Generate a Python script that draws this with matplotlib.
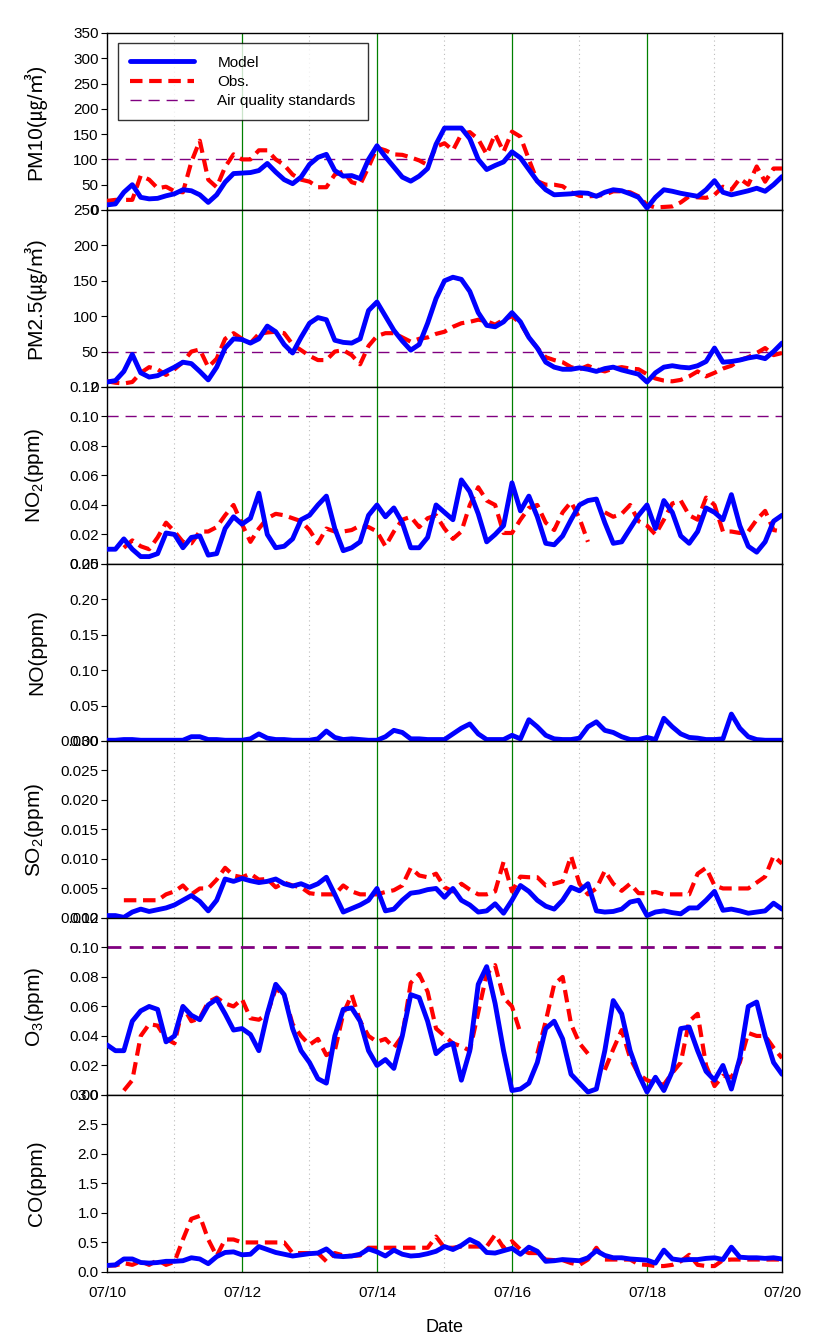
import numpy as np
import matplotlib
matplotlib.use("Agg")
import matplotlib.pyplot as plt

plt.rcParams['font.family'] = ['Liberation Sans', 'Noto Sans CJK KR', 'DejaVu Sans']
plt.rcParams['mathtext.default'] = 'regular'

nan = np.nan

# 3-hourly values, 07/10 00:00 .. 07/20 00:00
hours = np.arange(0, 241, 3)
day_labels = ['07/10', '07/12', '07/14', '07/16', '07/18', '07/20']

pm10_model = [10, 12, 35, 50, 25, 22, 23, 28, 32, 40, 38, 30, 15, 30, 55, 72, 73, 74, 78, 92, 75,
              60, 52, 65, 90, 104, 110, 78, 67, 68, 62, 100, 127, 105, 85, 65, 57, 67, 82, 130, 162,
              162, 162, 141, 100, 80, 88, 95, 115, 103, 80, 57, 40, 30, 31, 32, 34, 33, 27, 35, 40,
              38, 32, 25, 4, 25, 40, 37, 33, 30, 27, 40, 58, 35, 30, 34, 38, 43, 37, 50, 66]
pm10_obs = [18, 20, 20, 20, 68, 60, 43, 46, 37, 35, 95, 137, 60, 45, 85, 110, 100, 100, 118, 118, 100,
            89, 70, 60, 56, 45, 45, 70, 76, 55, 50, 85, 123, 118, 110, 109, 104, 98, 89, 125, 132,
            118, 150, 154, 140, 110, 150, 115, 155, 145, 100, 57, 50, 50, 47, 35, 28, 27, 28, 30, 37,
            37, 35, 27, 10, 5, 6, 7, 15, 27, 25, 24, 30, 46, 40, 62, 50, 86, 56, 82, 82]

pm25_model = [7, 9, 22, 46, 20, 14, 16, 22, 28, 35, 33, 22, 10, 28, 55, 68, 67, 62, 68, 86, 78,
              60, 48, 70, 90, 98, 95, 66, 63, 62, 68, 108, 120, 100, 80, 65, 52, 60, 90, 125, 150,
              155, 152, 135, 105, 87, 85, 92, 105, 92, 70, 55, 35, 28, 25, 25, 27, 25, 22, 26, 28,
              24, 21, 18, 7, 20, 28, 30, 28, 27, 30, 36, 55, 35, 36, 38, 41, 43, 40, 50, 62]
pm25_obs = [8, 6, 5, 7, 20, 28, 25, 17, 25, 35, 50, 53, 28, 40, 68, 76, 68, 62, 75, 77, 78,
            76, 60, 52, 44, 38, 38, 50, 52, 45, 32, 58, 72, 76, 76, 70, 64, 68, 70, 75, 78,
            85, 90, 92, 95, 93, 88, 95, 100, 90, 70, 55, 42, 38, 35, 28, 25, 30, 25, 22, 26,
            28, 26, 25, 18, 12, 9, 8, 10, 15, 22, 15, 20, 26, 30, 38, 42, 48, 55, 45, 48]

no2_model = [0.010, 0.010, 0.017, 0.010, 0.005, 0.005, 0.007, 0.021, 0.020, 0.011, 0.018, 0.019,
             0.006, 0.007, 0.024, 0.032, 0.027, 0.031, 0.048, 0.020, 0.011, 0.012, 0.017, 0.030,
             0.033, 0.040, 0.046, 0.024, 0.009, 0.011, 0.015, 0.033, 0.040, 0.032, 0.038, 0.028,
             0.011, 0.011, 0.018, 0.040, 0.035, 0.030, 0.057, 0.049, 0.034, 0.015, 0.020, 0.026,
             0.055, 0.036, 0.046, 0.032, 0.014, 0.013, 0.019, 0.030, 0.040, 0.043, 0.044, 0.028,
             0.014, 0.015, 0.024, 0.033, 0.040, 0.024, 0.043, 0.035, 0.019, 0.014, 0.022, 0.038,
             0.035, 0.030, 0.047, 0.026, 0.012, 0.008, 0.015, 0.029, 0.033]
no2_obs = [nan, nan, 0.011, 0.016, 0.012, 0.010, 0.018, 0.028, 0.022, 0.015, 0.014, 0.022,
           0.022, 0.025, 0.033, 0.040, 0.027, 0.015, 0.024, 0.031, 0.034, 0.033, 0.031, 0.029,
           0.023, 0.014, 0.024, 0.022, 0.022, 0.023, 0.026, 0.025, 0.022, 0.012, 0.022, 0.030,
           0.032, 0.025, 0.031, 0.033, 0.024, 0.017, 0.022, 0.040, 0.052, 0.043, 0.040, 0.021,
           0.021, 0.030, 0.038, 0.040, 0.028, 0.023, 0.035, 0.042, 0.031, 0.015, nan, 0.035,
           0.032, 0.034, 0.040, 0.029, 0.026, 0.020, 0.030, 0.041, 0.043, 0.033, 0.030, 0.045,
           0.040, 0.022, 0.022, 0.021, 0.022, 0.030, 0.036, 0.023, 0.022]

no_model = [0.001, 0.001, 0.002, 0.002, 0.001, 0.001, 0.001, 0.001, 0.001, 0.001, 0.006, 0.006,
            0.002, 0.002, 0.001, 0.001, 0.001, 0.003, 0.010, 0.004, 0.002, 0.002, 0.001, 0.001,
            0.001, 0.003, 0.014, 0.005, 0.002, 0.003, 0.002, 0.001, 0.001, 0.006, 0.015, 0.012,
            0.003, 0.003, 0.002, 0.002, 0.002, 0.010, 0.018, 0.024, 0.010, 0.002, 0.002, 0.002,
            0.008, 0.003, 0.030, 0.020, 0.008, 0.003, 0.002, 0.002, 0.004, 0.020, 0.027, 0.015,
            0.012, 0.006, 0.002, 0.002, 0.005, 0.002, 0.032, 0.020, 0.010, 0.005, 0.004, 0.002,
            0.002, 0.003, 0.038, 0.018, 0.006, 0.002, 0.001, 0.001, 0.001]

so2_model = [0.0004, 0.0004, 0.0001, 0.0010, 0.0015, 0.0011, 0.0014, 0.0017, 0.0022, 0.0030, 0.0038,
             0.0028, 0.0012, 0.0030, 0.0066, 0.0062, 0.0067, 0.0063, 0.0060, 0.0062, 0.0066, 0.0058,
             0.0054, 0.0058, 0.0052, 0.0058, 0.0069, 0.0040, 0.0010, 0.0016, 0.0022, 0.0030, 0.0050,
             0.0012, 0.0015, 0.0030, 0.0042, 0.0044, 0.0048, 0.0050, 0.0035, 0.0050, 0.0030, 0.0022,
             0.0010, 0.0012, 0.0024, 0.0008, 0.0030, 0.0055, 0.0045, 0.0030, 0.0020, 0.0015, 0.0030,
             0.0052, 0.0046, 0.0058, 0.0012, 0.0010, 0.0011, 0.0015, 0.0027, 0.0030, 0.0004, 0.0010,
             0.0012, 0.0009, 0.0007, 0.0017, 0.0017, 0.0030, 0.0045, 0.0013, 0.0015, 0.0012, 0.0008,
             0.0010, 0.0012, 0.0025, 0.0015]
so2_obs = [nan, nan, 0.003, 0.003, 0.003, 0.003, 0.003, 0.004, 0.0045, 0.0055, 0.004, 0.005,
           0.005, 0.0065, 0.0085, 0.0072, 0.0069, 0.0075, 0.0065, 0.0066, 0.0052, 0.006, 0.0055,
           0.0052, 0.0042, 0.004, 0.004, 0.004, 0.0055, 0.0045, 0.004, 0.004, 0.004, 0.0044,
           0.0047, 0.0055, 0.0085, 0.0072, 0.0069, 0.0075, 0.0052, 0.0045, 0.0058, 0.0048, 0.004,
           0.004, 0.0045, 0.0095, 0.0045, 0.0070, 0.0069, 0.0069, 0.0055, 0.0058, 0.0062, 0.0105,
           0.0058, 0.004, 0.0050, 0.0080, 0.0058, 0.0046, 0.0058, 0.0042, 0.0042, 0.0044, 0.0040,
           0.0040, 0.0040, 0.0040, 0.0075, 0.0085, 0.0055, 0.0050, 0.0050, 0.0050, 0.0050, 0.0060,
           0.0070, 0.0105, 0.0092]

o3_model = [0.034, 0.030, 0.030, 0.050, 0.057, 0.060, 0.058, 0.036, 0.040, 0.060, 0.054, 0.051,
            0.061, 0.065, 0.055, 0.044, 0.045, 0.041, 0.030, 0.055, 0.075, 0.068, 0.045, 0.030,
            0.022, 0.011, 0.008, 0.040, 0.058, 0.059, 0.050, 0.030, 0.020, 0.024, 0.018, 0.040,
            0.068, 0.066, 0.050, 0.028, 0.033, 0.035, 0.010, 0.030, 0.075, 0.087, 0.062, 0.030,
            0.003, 0.004, 0.008, 0.022, 0.045, 0.050, 0.038, 0.014, 0.008, 0.002, 0.004, 0.030,
            0.064, 0.055, 0.030, 0.014, 0.002, 0.012, 0.003, 0.016, 0.045, 0.046, 0.030, 0.016,
            0.010, 0.020, 0.004, 0.025, 0.060, 0.063, 0.040, 0.022, 0.014]
o3_obs = [nan, nan, 0.003, 0.010, 0.040, 0.048, 0.047, 0.038, 0.035, 0.060, 0.050, 0.052,
          0.063, 0.066, 0.062, 0.060, 0.065, 0.052, 0.051, 0.055, 0.072, 0.068, 0.048, 0.040,
          0.034, 0.038, 0.027, 0.030, 0.055, 0.068, 0.050, 0.040, 0.036, 0.038, 0.032, 0.040,
          0.076, 0.082, 0.070, 0.045, 0.040, 0.035, 0.033, 0.030, 0.056, 0.082, 0.088, 0.066,
          0.060, 0.042, nan, 0.028, 0.050, 0.075, 0.080, 0.048, 0.035, 0.028, nan, 0.017,
          0.031, 0.044, 0.025, 0.014, 0.010, 0.008, 0.007, 0.015, 0.022, 0.050, 0.055, 0.020,
          0.006, 0.013, 0.012, 0.022, 0.042, 0.040, 0.040, 0.032, 0.025]

co_model = [0.11, 0.12, 0.22, 0.22, 0.16, 0.15, 0.16, 0.18, 0.18, 0.19, 0.24, 0.22, 0.14, 0.26,
            0.33, 0.34, 0.29, 0.30, 0.43, 0.38, 0.33, 0.30, 0.27, 0.29, 0.31, 0.32, 0.39, 0.27,
            0.26, 0.27, 0.30, 0.39, 0.34, 0.27, 0.37, 0.30, 0.27, 0.28, 0.31, 0.35, 0.43, 0.38,
            0.45, 0.55, 0.48, 0.33, 0.32, 0.36, 0.40, 0.30, 0.42, 0.35, 0.18, 0.19, 0.21, 0.20,
            0.19, 0.24, 0.36, 0.28, 0.24, 0.24, 0.22, 0.21, 0.20, 0.15, 0.37, 0.22, 0.20, 0.21,
            0.21, 0.23, 0.24, 0.21, 0.42, 0.25, 0.24, 0.24, 0.23, 0.24, 0.22]
co_obs = [0.11, 0.11, 0.15, 0.12, 0.18, 0.12, 0.20, 0.12, 0.17, 0.55, 0.90, 0.95, 0.55, 0.27,
          0.55, 0.55, 0.50, 0.50, 0.50, 0.50, 0.50, 0.50, 0.32, 0.32, 0.32, 0.32, 0.18, 0.32,
          0.28, 0.27, 0.28, 0.41, 0.41, 0.41, 0.41, 0.41, 0.41, 0.41, 0.41, 0.60, 0.41, 0.41,
          0.43, 0.43, 0.43, 0.43, 0.63, 0.41, 0.52, 0.38, 0.32, 0.32, 0.21, 0.20, 0.20, 0.15,
          0.12, 0.21, 0.41, 0.21, 0.21, 0.21, 0.21, 0.13, 0.12, 0.10, 0.10, 0.12, 0.18, 0.29,
          0.12, 0.10, 0.10, 0.20, 0.21, 0.21, 0.21, 0.21, 0.21, 0.21, 0.21]

# panel: label, model, obs, ymax, ystep, standard, tick format
panels = [
    ('PM10(㎍/㎥)', pm10_model, pm10_obs, 350, 50, 100, '%d'),
    ('PM2.5(㎍/㎥)', pm25_model, pm25_obs, 250, 50, 50, '%d'),
    ('NO$_2$(ppm)', no2_model, no2_obs, 0.12, 0.02, 0.10, '%.2f'),
    ('NO(ppm)', no_model, None, 0.25, 0.05, None, '%.2f'),
    ('SO$_2$(ppm)', so2_model, so2_obs, 0.030, 0.005, None, '%.3f'),
    ('O$_3$(ppm)', o3_model, o3_obs, 0.12, 0.02, 0.10, '%.2f'),
    ('CO(ppm)', co_model, co_obs, 3.0, 0.5, None, '%.1f'),
]

days = np.array(hours) / 24.0

fig, axes = plt.subplots(7, 1, figsize=(8.21, 13.41), dpi=100, sharex=True)
fig.subplots_adjust(left=0.1303, right=0.9525, top=0.9754, bottom=0.0515, hspace=0)

for i, (ax, (label, model, obs, ymax, ystep, std, fmt)) in enumerate(zip(axes, panels)):
    for d in range(1, 10, 2):
        ax.axvline(d, color='#bbbbbb', lw=0.8, ls=(0, (1, 3)), zorder=1)
    for d in range(2, 10, 2):
        ax.axvline(d, color='green', lw=0.9, zorder=1)
    if std is not None:
        slw = 2.0 if label.startswith('O$') else 1.0
        ax.axhline(std, color='purple', lw=slw, dashes=(8, 5) if slw < 1.5 else (5, 3), zorder=2,
                   label='Air quality standards')
    ax.plot(days, model, color='blue', lw=3.5, zorder=4, label='Model',
            solid_joinstyle='round', solid_capstyle='round')
    if obs is not None:
        ax.plot(days, obs, color='red', lw=3.0, dashes=(3, 1.6), zorder=3, label='Obs.',
                dash_joinstyle='round')
    ax.set_xlim(0, 10)
    ax.set_ylim(0, ymax)
    ticks = np.round(np.arange(0, ymax + ystep / 2, ystep), 4)
    ax.set_yticks(ticks)
    ax.set_yticklabels([fmt % t for t in ticks])
    ax.tick_params(axis='y', labelsize=11, direction='out', length=4, pad=2)
    ax.tick_params(axis='x', length=0)
    ax.set_ylabel(label, fontsize=15)
    ax.yaxis.set_label_coords(-0.09, 0.5)
    for s in ax.spines.values():
        s.set_linewidth(1.0)

    if i == 0:
        h, l = ax.get_legend_handles_labels()
        order = [l.index('Model'), l.index('Obs.'), l.index('Air quality standards')]
        leg = ax.legend([h[j] for j in order], [l[j] for j in order], loc='upper left',
                        fontsize=11, fancybox=False, edgecolor='black', handlelength=4.2,
                        borderpad=0.8, labelspacing=0.35, handletextpad=1.5,
                        bbox_to_anchor=(0.005, 0.985))
        leg.get_frame().set_linewidth(1.0)

axes[-1].set_xticks(np.arange(0, 11, 2))
axes[-1].set_xticklabels(day_labels)
axes[-1].tick_params(axis='x', labelsize=11, pad=10)
axes[-1].set_xlabel('Date', fontsize=13, labelpad=14)

fig.savefig('out.png', dpi=100)
